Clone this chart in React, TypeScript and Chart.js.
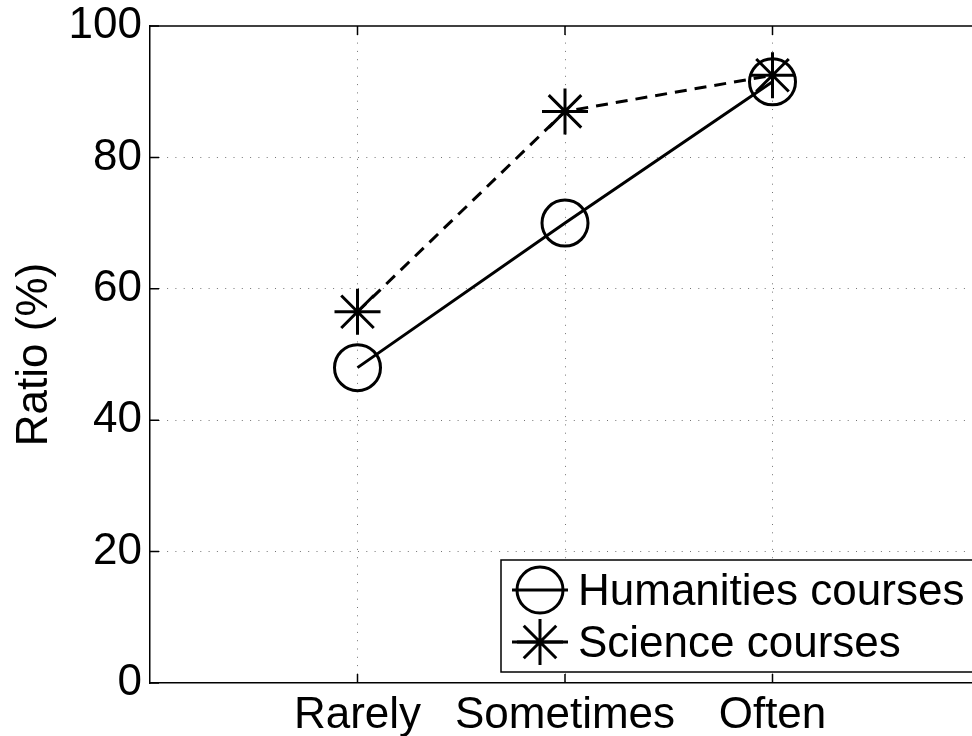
import React, { useEffect, useRef } from 'react';
import { Chart, registerables } from 'chart.js';

Chart.register(...registerables);

const categories = ['Rarely', 'Sometimes', 'Often'];
const humanities = [48, 70, 91.5];
const science = [56.5, 87, 92.5];
const seriesLabels = ['Humanities courses', 'Science courses'];
const seriesMarkers = ['circle', 'star'];
const yTicks = [0, 20, 40, 60, 80, 100];
const yTitle = 'Ratio (%)';

const FONT_FAMILY = '"Liberation Sans", Arial, Helvetica, sans-serif';
const FONT_SIZE = 44;
const GRID_COLOR = 'rgba(0,0,0,0.55)';
const CANVAS_W = 1006;
const CANVAS_H = 736;

function drawMarker(ctx: CanvasRenderingContext2D, style: string, x: number, y: number, r: number) {
  ctx.beginPath();
  if (style === 'circle') {
    ctx.arc(x, y, r, 0, Math.PI * 2);
  } else {
    for (let k = 0; k < 4; k++) {
      const a = (k * Math.PI) / 4;
      ctx.moveTo(x - Math.cos(a) * r, y - Math.sin(a) * r);
      ctx.lineTo(x + Math.cos(a) * r, y + Math.sin(a) * r);
    }
  }
  ctx.stroke();
}

const framePlugin = {
  id: 'frame',
  afterDraw(chart: any) {
    const { ctx, chartArea } = chart;
    const xs = chart.scales.x;
    const ys = chart.scales.y;
    ctx.save();
    ctx.strokeStyle = '#000';
    ctx.lineWidth = 1.5;
    ctx.setLineDash([]);
    ctx.beginPath();
    ctx.moveTo(chartArea.left, chartArea.top);
    ctx.lineTo(chartArea.right, chartArea.top);
    ctx.stroke();
    const tl = 9;
    ctx.beginPath();
    xs.ticks.forEach((t: any) => {
      const px = xs.getPixelForValue(t.value);
      ctx.moveTo(px, chartArea.bottom);
      ctx.lineTo(px, chartArea.bottom - tl);
      ctx.moveTo(px, chartArea.top);
      ctx.lineTo(px, chartArea.top + tl);
    });
    ys.ticks.forEach((t: any) => {
      const py = ys.getPixelForValue(t.value);
      ctx.moveTo(chartArea.left, py);
      ctx.lineTo(chartArea.left + tl, py);
    });
    ctx.stroke();
    ctx.restore();
  },
};

const legendPlugin = {
  id: 'matlabLegend',
  afterDraw(chart: any) {
    const { ctx, chartArea } = chart;
    const boxL = chartArea.left + 351;
    const boxT = chartArea.bottom - 123;
    const boxB = chartArea.bottom - 11;
    const boxR = chart.width + 40;
    ctx.save();
    ctx.fillStyle = '#fff';
    ctx.fillRect(boxL, boxT, boxR - boxL, boxB - boxT);
    ctx.strokeStyle = '#000';
    ctx.lineWidth = 1.5;
    ctx.strokeRect(boxL, boxT, boxR - boxL, boxB - boxT);
    chart.data.datasets.forEach((ds: any, i: number) => {
      const y = boxT + 30 + i * 52;
      ctx.strokeStyle = '#000';
      ctx.lineWidth = 3;
      ctx.setLineDash([]);
      ctx.beginPath();
      ctx.moveTo(boxL + 11, y);
      ctx.lineTo(boxL + 67, y);
      ctx.stroke();
      drawMarker(ctx, seriesMarkers[i], boxL + 39, y, 23);
      ctx.fillStyle = '#000';
      ctx.font = `${FONT_SIZE}px ${FONT_FAMILY}`;
      ctx.textBaseline = 'middle';
      ctx.textAlign = 'left';
      ctx.fillText(ds.label, boxL + 77, y + 3);
    });
    ctx.restore();
  },
};

export default function App() {
  const canvasRef = useRef<HTMLCanvasElement | null>(null);

  useEffect(() => {
    const canvas = canvasRef.current;
    if (!canvas) return;
    const font = { family: FONT_FAMILY, size: FONT_SIZE };
    const chart = new Chart(canvas, {
      type: 'line',
      data: {
        datasets: [
          {
            label: seriesLabels[0],
            data: humanities.map((v, i) => ({ x: i + 1, y: v })),
            borderColor: '#000',
            borderWidth: 3,
            pointStyle: 'circle',
            pointRadius: 23,
            pointBorderWidth: 3,
            pointBorderColor: '#000',
            pointBackgroundColor: 'rgba(0,0,0,0)',
            fill: false,
            tension: 0,
          },
          {
            label: seriesLabels[1],
            data: science.map((v, i) => ({ x: i + 1, y: v })),
            borderColor: '#000',
            borderWidth: 3,
            borderDash: [12, 8],
            pointStyle: 'star',
            pointRadius: 23,
            pointBorderWidth: 3,
            pointBorderColor: '#000',
            pointBackgroundColor: 'rgba(0,0,0,0)',
            fill: false,
            tension: 0,
          },
        ],
      },
      options: {
        animation: false,
        responsive: false,
        clip: false as any,
        layout: { padding: { top: 23, right: 8, left: 0, bottom: 0 } },
        plugins: { legend: { display: false }, tooltip: { enabled: false } },
        scales: {
          x: {
            type: 'linear',
            min: 0,
            max: 4,
            afterBuildTicks: (s: any) => {
              s.ticks = categories.map((_, i) => ({ value: i + 1 }));
            },
            ticks: {
              callback: (v: any) => categories[Number(v) - 1] ?? '',
              font,
              color: '#000',
              padding: 6,
              maxRotation: 0,
              autoSkip: false,
            },
            grid: { color: GRID_COLOR, lineWidth: 1, drawTicks: false },
            border: { display: true, color: '#000', width: 1.5, dash: [1, 7.3] },
            afterFit: (s: any) => {
              s.height = 53;
              s.paddingLeft = 0;
              s.paddingRight = 0;
            },
          },
          y: {
            type: 'linear',
            min: 0,
            max: 100,
            afterBuildTicks: (s: any) => {
              s.ticks = yTicks.map((v) => ({ value: v }));
            },
            ticks: { font, color: '#000', padding: 8 },
            grid: {
              color: (c: any) =>
                c.tick && (c.tick.value === 0 || c.tick.value === 100) ? 'rgba(0,0,0,0)' : GRID_COLOR,
              lineWidth: 1,
              drawTicks: false,
            },
            border: { display: true, color: '#000', width: 1.5, dash: [1, 7.3] },
            title: {
              display: true,
              text: yTitle,
              font,
              color: '#000',
              padding: { top: 8, bottom: 0 },
            },
            afterFit: (s: any) => {
              s.width = 150;
              s.paddingTop = 0;
              s.paddingBottom = 0;
            },
          },
        },
      } as any,
      plugins: [framePlugin, legendPlugin],
    });
    return () => chart.destroy();
  }, []);

  return (
    <div style={{ position: 'absolute', left: 0, top: 0, width: 972, height: 736, overflow: 'hidden', background: '#fff' }}>
      <canvas
        ref={canvasRef}
        width={CANVAS_W}
        height={CANVAS_H}
        style={{ width: CANVAS_W, height: CANVAS_H, display: 'block' }}
      />
    </div>
  );
}
